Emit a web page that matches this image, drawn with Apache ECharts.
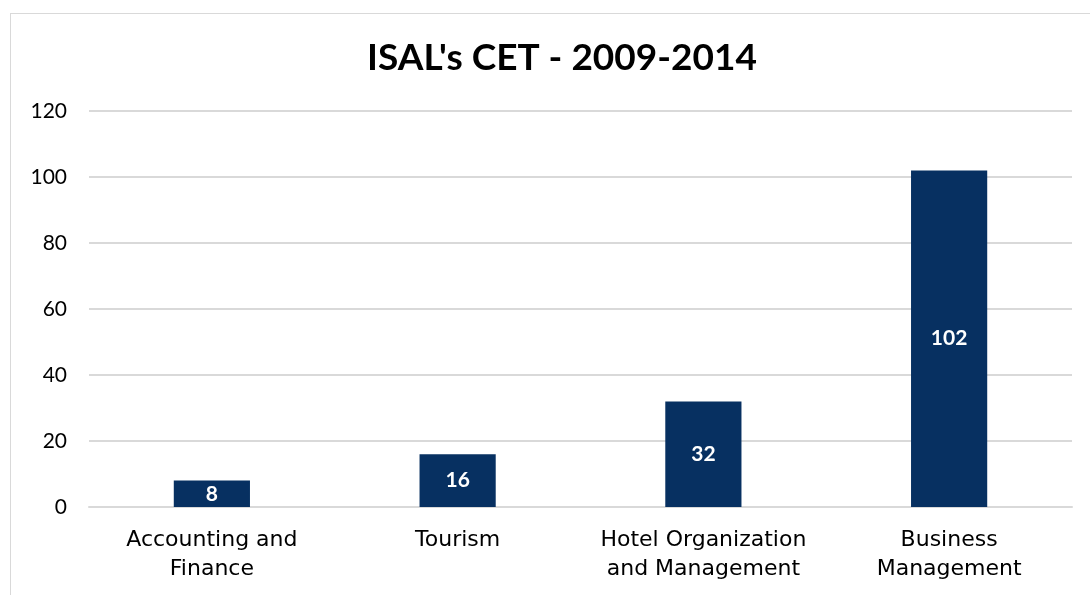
<!DOCTYPE html>
<html>
<head>
<meta charset="utf-8">
<script src="https://cdn.jsdelivr.net/npm/echarts@6/dist/echarts.min.js"></script>
<style>
  html, body { margin: 0; padding: 0; background: #fff; }
  #frame { position: absolute; left: 10px; top: 13px; width: 1100px; height: 600px; border: 1px solid #d9d9d9; }
  #chart { position: absolute; left: 0; top: 0; width: 1090px; height: 595px; }
</style>
</head>
<body>
<div id="frame"></div>
<div id="chart"></div>
<script>
// data
const categories = ['Accounting and\nFinance', 'Tourism', 'Hotel Organization\nand Management', 'Business\nManagement'];
const values = [8, 16, 32, 102];
const yTicks = { min: 0, max: 120, interval: 20 };

const chart = echarts.init(document.getElementById('chart'));
const font = 'Lato, "Open Sans", sans-serif';
const wideFont = '"DejaVu Sans", sans-serif';

chart.setOption({
  animation: false,
  title: {
    text: "ISAL's CET - 2009-2014",
    left: 557,
    top: 35,
    textAlign: 'center',
    textStyle: { fontFamily: font, fontSize: 37, fontWeight: 'bold', color: '#000' }
  },
  grid: { left: 89, right: 18, top: 111, bottom: 88 },
  xAxis: {
    type: 'category',
    data: categories,
    axisLine: { show: true, lineStyle: { color: '#d9d9d9', width: 2 } },
    axisTick: { show: false },
    axisLabel: {
      interval: 0,
      hideOverlap: false,
      fontFamily: wideFont, fontSize: 22, color: '#000', lineHeight: 29, margin: 19
    }
  },
  yAxis: {
    type: 'value',
    min: yTicks.min,
    max: yTicks.max,
    interval: yTicks.interval,
    axisLine: { show: false },
    axisTick: { show: false },
    splitLine: { lineStyle: { color: '#d9d9d9', width: 2 } },
    axisLabel: { fontFamily: font, fontSize: 21, color: '#000', margin: 22 }
  },
  series: [{
    type: 'bar',
    data: values,
    barWidth: '31%',
    itemStyle: { color: '#073061' },
    label: {
      show: true,
      position: 'inside',
      color: '#fff',
      fontFamily: font,
      fontWeight: 'bold',
      fontSize: 21
    }
  }]
});
</script>
</body>
</html>
